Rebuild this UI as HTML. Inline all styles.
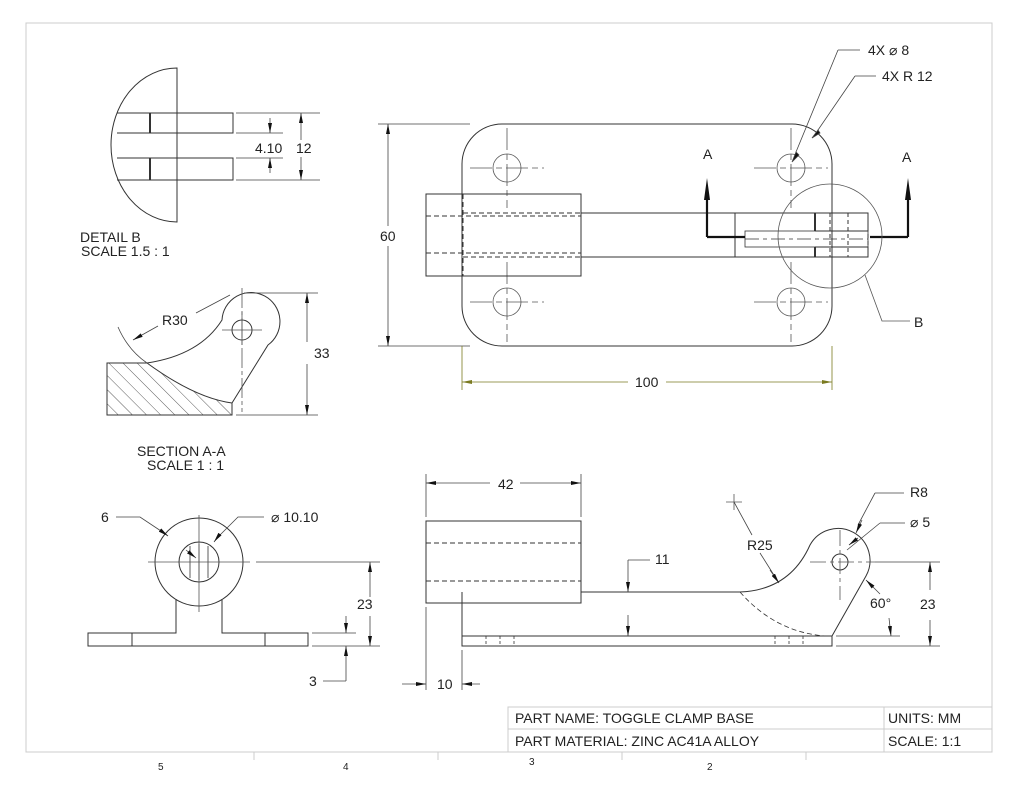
<!DOCTYPE html>
<html><head><meta charset="utf-8"><style>
html,body{margin:0;padding:0;background:#fff;}
svg{display:block;}
text{font-family:"Liberation Sans",sans-serif;fill:#222;}
</style></head><body>
<svg width="1024" height="787" viewBox="0 0 1024 787" xmlns="http://www.w3.org/2000/svg">
<defs>
<marker id="ar" viewBox="0 0 10 4" refX="10" refY="2" markerWidth="10" markerHeight="4" markerUnits="userSpaceOnUse" orient="auto-start-reverse"><path d="M0,0 L10,2 L0,4z" fill="#111"/></marker>
<marker id="ay" viewBox="0 0 10 4" refX="10" refY="2" markerWidth="10" markerHeight="4" markerUnits="userSpaceOnUse" orient="auto-start-reverse"><path d="M0,0 L10,2 L0,4z" fill="#7a7a20"/></marker>
<pattern id="hatch" width="10" height="10" patternUnits="userSpaceOnUse" patternTransform="rotate(-45)"><line x1="0" y1="0" x2="0" y2="10" stroke="#333" stroke-width="0.8"/></pattern>
</defs>
<rect x="26" y="23" width="966" height="729" fill="none" stroke="#ccc" stroke-width="1"/>
<g stroke="#ccc"><line x1="254" y1="752" x2="254" y2="760"/><line x1="438" y1="752" x2="438" y2="760"/><line x1="622" y1="752" x2="622" y2="760"/><line x1="806" y1="752" x2="806" y2="760"/></g>
<g font-size="10"><text x="158" y="770">5</text><text x="343" y="770">4</text><text x="529" y="765">3</text><text x="707" y="770">2</text></g>
<g stroke="#ccc" fill="none"><rect x="508" y="707" width="484" height="45"/><line x1="508" y1="729" x2="992" y2="729"/><line x1="884" y1="707" x2="884" y2="752"/></g>
<g font-size="14"><text x="515" y="723">PART NAME:  TOGGLE CLAMP BASE</text><text x="515" y="746">PART MATERIAL: ZINC AC41A ALLOY</text><text x="888" y="723">UNITS: MM</text><text x="888" y="746">SCALE: 1:1</text></g>

<g stroke="#333" stroke-width="1" fill="none">
<!-- TOP VIEW -->
<rect x="462" y="124" width="370" height="222" rx="40"/>
<g stroke="#555" stroke-width="0.8">
<circle cx="507" cy="168" r="14"/><circle cx="791" cy="168" r="14"/><circle cx="507" cy="302" r="14"/><circle cx="791" cy="302" r="14"/>
<path d="M470 168h74M507 128v80M754 168h74M791 128v80M470 302h74M507 262v80M754 302h74M791 262v80" stroke-dasharray="22 4 6 4"/>
</g>
<rect x="426" y="194" width="155" height="82"/>
<path d="M581 213H735M581 257H735M735 213V257"/>
<path d="M426 216H581M426 253H581M463 213H581M463 257H581M463 194V276" stroke-dasharray="5 3"/>
<path d="M735 213H868V231H815M735 257H868V247H815"/>
<rect x="745" y="231" width="123" height="16" stroke-width="0.8"/>
<path d="M815 213V231M815 247V257" stroke-width="2"/>
<path d="M830 213V257M848 213V257M868 213V257" stroke-dasharray="4 3"/>
<path d="M745 239H868" stroke-dasharray="14 4 4 4" stroke-width="0.8"/>
<path d="M707 237H745M870 237H908M707 237V200M908 237V200" stroke-width="2.2" stroke="#111"/>
<path d="M704 200L707 178L710 200z M905 200L908 178L911 200z" fill="#111" stroke="none"/>
<circle cx="830" cy="236" r="52" stroke="#555" stroke-width="0.8"/>
<path d="M865 275L882 321H910" stroke="#555" stroke-width="0.8"/>
<g stroke="#444" stroke-width="0.8">
<path d="M378 124H470M378 346H470"/>
<line x1="388" y1="226" x2="388" y2="124" marker-end="url(#ar)"/>
<line x1="388" y1="246" x2="388" y2="346" marker-end="url(#ar)"/>
<path d="M838 50H860M838 50L796 152M855 76H876M855 76L818 130"/>
<path d="M796 152l-4 10 7-7z M818 130l-6 8 8-5z" fill="#111"/>
</g>
<g stroke="#7a7a20" stroke-width="0.8">
<path d="M462 346V390M832 346V390"/>
<line x1="628" y1="382" x2="462" y2="382" marker-end="url(#ay)"/>
<line x1="666" y1="382" x2="832" y2="382" marker-end="url(#ay)"/>
</g>

<!-- DETAIL B -->
<path d="M177 68A66 77 0 0 0 177 222Z"/>
<path d="M117 113H233V133H117M117 158H233V180H117"/>
<path d="M150 113V133M150 158V180" stroke-width="2"/>
<g stroke="#444" stroke-width="0.8">
<path d="M236 113H320M236 133H283M236 158H283M236 180H320"/>
<line x1="270" y1="118" x2="270" y2="133" marker-end="url(#ar)"/>
<line x1="270" y1="173" x2="270" y2="158" marker-end="url(#ar)"/>
<line x1="301" y1="140" x2="301" y2="113" marker-end="url(#ar)"/>
<line x1="301" y1="157" x2="301" y2="180" marker-end="url(#ar)"/>
</g>

<!-- SECTION A-A -->
<path d="M107 363H147Q195 398 232 403V415H107Z" fill="url(#hatch)"/>
<path d="M147 363Q200 355 222 320A29 29 0 1 1 268 345L232 403"/>
<circle cx="242" cy="330" r="10"/>
<g stroke="#555" stroke-width="0.8"><path d="M222 330H262M242 312V345"/><path d="M242 288V412" stroke-dasharray="20 3 4 3"/></g>
<g stroke="#444" stroke-width="0.8">
<path d="M244 293H318M236 415H318M118 327Q128 350 147 363M196 313L230 295"/>
<line x1="307" y1="342" x2="307" y2="293" marker-end="url(#ar)"/>
<line x1="307" y1="364" x2="307" y2="415" marker-end="url(#ar)"/>
<line x1="158" y1="326" x2="133" y2="340" marker-end="url(#ar)"/>
</g>

<!-- FRONT VIEW (left) -->
<circle cx="199" cy="562" r="44"/>
<circle cx="199" cy="562" r="20"/>
<path d="M176 599V633H88V646H308V633H222V599"/>
<path d="M132 633V646M265 633V646"/>
<path d="M190 546V578M199 544V580M208 546V578" stroke-width="0.8"/>
<g stroke="#555" stroke-width="0.8"><path d="M148 562H250M199 515V612"/></g>
<g stroke="#444" stroke-width="0.8">
<path d="M256 562H380M312 633H356M312 646H380"/>
<line x1="370" y1="597" x2="370" y2="562" marker-end="url(#ar)"/>
<line x1="370" y1="616" x2="370" y2="646" marker-end="url(#ar)"/>
<line x1="346" y1="616" x2="346" y2="633" marker-end="url(#ar)"/>
<line x1="346" y1="681" x2="346" y2="646" marker-end="url(#ar)"/>
<path d="M323 681H346"/>
<path d="M116 517H140L164 533M264 517H238L217 538"/>
<line x1="160" y1="530" x2="168" y2="536" marker-end="url(#ar)"/>
<line x1="220" y1="534" x2="214" y2="542" marker-end="url(#ar)"/>
<line x1="186" y1="550" x2="196" y2="558" marker-end="url(#ar)"/>
</g>

<!-- SIDE VIEW -->
<rect x="426" y="521" width="155" height="82"/>
<path d="M426 543H581M426 581H581" stroke-dasharray="5 3"/>
<path d="M581 592H740Q790 590 810 545A30 30 0 1 1 866 576L832 636"/>
<path d="M462 592V646H832V636H462"/>
<path d="M740 592Q775 632 825 636" stroke-dasharray="5 3" stroke-width="0.8"/>
<path d="M486 636V646M500 636V646M514 636V646M775 636V646M789 636V646M803 636V646" stroke-dasharray="3 2" stroke-width="0.8"/>
<circle cx="840" cy="562" r="8"/>
<g stroke="#555" stroke-width="0.8"><path d="M810 562H875M840 530V600" stroke-dasharray="16 4 4 4"/><path d="M726 502h16M734 494v16"/></g>
<g stroke="#444" stroke-width="0.8">
<path d="M426 474V517M581 474V517M426 607V690M462 650V690"/>
<line x1="490" y1="483" x2="426" y2="483" marker-end="url(#ar)"/>
<line x1="520" y1="483" x2="581" y2="483" marker-end="url(#ar)"/>
<line x1="402" y1="684" x2="426" y2="684" marker-end="url(#ar)"/>
<line x1="480" y1="684" x2="462" y2="684" marker-end="url(#ar)"/>
<path d="M628 560H650"/>
<line x1="628" y1="560" x2="628" y2="592" marker-end="url(#ar)"/>
<line x1="628" y1="615" x2="628" y2="636" marker-end="url(#ar)"/>
<path d="M875 562H940M836 636H900M836 646H940"/>
<line x1="930" y1="590" x2="930" y2="562" marker-end="url(#ar)"/>
<line x1="930" y1="620" x2="930" y2="646" marker-end="url(#ar)"/>
<path d="M734 502L752 535M760 553L777 580M875 493H904M875 493L858 525M880 523H905M880 523L847 550"/>
<line x1="770" y1="570" x2="779" y2="583" marker-end="url(#ar)"/>
<line x1="862" y1="520" x2="856" y2="533" marker-end="url(#ar)"/>
<line x1="858" y1="538" x2="849" y2="545" marker-end="url(#ar)"/>
<line x1="880" y1="594" x2="866" y2="580" marker-end="url(#ar)"/>
<line x1="889" y1="618" x2="891" y2="636" marker-end="url(#ar)"/>
</g>
</g>

<g font-size="14">
<text x="868" y="55">4X  ⌀ 8</text>
<text x="882" y="81">4X R 12</text>
<text x="703" y="159">A</text><text x="902" y="162">A</text>
<text x="914" y="327">B</text>
<text x="380" y="241">60</text>
<text x="635" y="387">100</text>
<text x="255" y="153">4.10</text><text x="296" y="153" fill="#222" style="paint-order:stroke" stroke="#fff" stroke-width="3">12</text>
<text x="80" y="242">DETAIL B</text>
<text x="81" y="256">SCALE 1.5 : 1</text>
<text x="162" y="325">R30</text>
<text x="314" y="358">33</text>
<text x="137" y="456">SECTION A-A</text>
<text x="147" y="470">SCALE 1 : 1</text>
<text x="101" y="522">6</text>
<text x="271" y="522">⌀ 10.10</text>
<text x="357" y="609">23</text>
<text x="309" y="686">3</text>
<text x="498" y="489">42</text>
<text x="437" y="689">10</text>
<text x="655" y="564">11</text>
<text x="747" y="550">R25</text>
<text x="910" y="497">R8</text>
<text x="910" y="527">⌀ 5</text>
<text x="870" y="608">60°</text>
<text x="920" y="609">23</text>
</g>
</svg>
</body></html>
